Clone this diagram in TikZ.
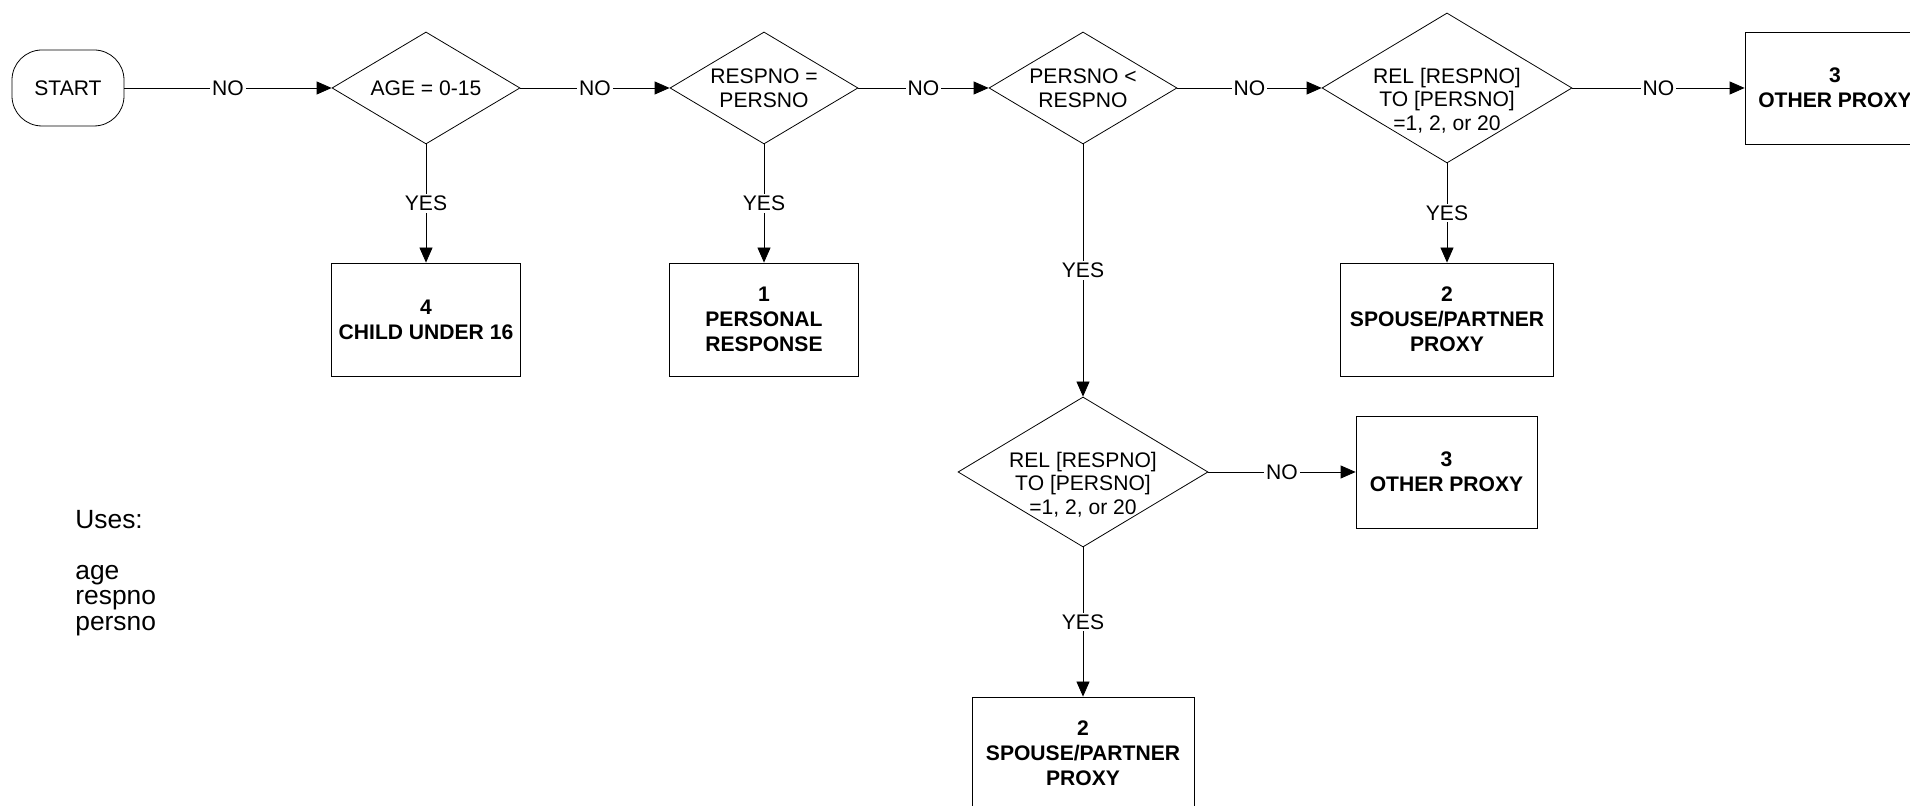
\documentclass[tikz,border=0pt]{standalone}
\usepackage{fontspec}
\setmainfont{Liberation Sans}
\usetikzlibrary{arrows.meta,positioning,calc,shapes.geometric}

\begin{document}
\begin{tikzpicture}[x=1cm,y=1cm,font=\fontsize{12}{13.5}\selectfont,line width=0.45pt,
  flow/.style={-{Triangle[length=0.3cm,width=0.26cm]}},
  ans/.style={fill=white,inner sep=1pt},
  test/.style={diamond,draw,inner sep=0pt,minimum width=3.76cm,minimum height=2.24cm},
  bigtest/.style={test,minimum width=5cm,minimum height=3cm},
  qtext/.style={align=center,inner sep=0pt},
  result/.style={draw,align=center,font=\bfseries\fontsize{12}{14.2}\selectfont,minimum width=3.78cm,minimum height=2.26cm}]
\useasboundingbox (0,0) rectangle (38.2,16.12);
\node[draw,rounded corners=0.6cm,minimum width=2.24cm,minimum height=1.52cm] (start) at (1.36,14.36) {START};
\node[test] (d1) at (8.52,14.36) {};
\node[qtext] (d1t) at (d1) {AGE = 0-15};
\node[test] (d2) at (15.28,14.36) {};
\node[qtext] (d2t) at (d2) {RESPNO =\\PERSNO};
\node[test] (d3) at (21.66,14.36) {};
\node[qtext] (d3t) at (d3) {PERSNO <\\RESPNO};
\node[bigtest] (d4) at (28.94,14.36) {};
\node[qtext,yshift=-0.25cm] (d4t) at (d4) {REL [RESPNO]\\TO [PERSNO]\\=1, 2, or 20};
\node[result,minimum width=3.6cm,minimum height=2.24cm] (other1) at (36.7,14.36) {3\\OTHER PROXY};
\node[result] (child) at (8.52,9.73) {4\\CHILD UNDER 16};
\node[result] (personal) at (15.28,9.73) {1\\PERSONAL\\RESPONSE};
\node[result,minimum width=4.26cm] (spouse1) at (28.94,9.73) {2\\SPOUSE/PARTNER\\PROXY};
\node[bigtest] (d5) at (21.66,6.68) {};
\node[qtext,yshift=-0.25cm] (d5t) at (d5) {REL [RESPNO]\\TO [PERSNO]\\=1, 2, or 20};
\node[result,minimum width=3.62cm,minimum height=2.24cm] (other2) at (28.93,6.68) {3\\OTHER PROXY};
\node[result,minimum width=4.44cm] (spouse2) at (21.66,1.05) {2\\SPOUSE/PARTNER\\PROXY};
\node[align=left,anchor=west,inner sep=0pt,font=\fontsize{15}{14.6}\selectfont] (uses) at (1.5,4.66) {Uses:\\[14.6pt]age\\respno\\persno};
\draw[flow] (start) -- node[ans] (no1) {NO} (d1);
\draw[flow] (d1) -- node[ans] (no2) {NO} (d2);
\draw[flow] (d2) -- node[ans] (no3) {NO} (d3);
\draw[flow] (d3) -- node[ans] (no4) {NO} (d4);
\draw[flow] (d4) -- node[ans] (no5) {NO} (other1);
\draw[flow] (d5) -- node[ans] (no6) {NO} (other2);
\draw[flow] (d1) -- node[ans] (yes1) {YES} (child);
\draw[flow] (d2) -- node[ans] (yes2) {YES} (personal);
\draw[flow] (d3) -- node[ans] (yes3) {YES} (d5);
\draw[flow] (d4) -- node[ans] (yes4) {YES} (spouse1);
\draw[flow] (d5) -- node[ans] (yes5) {YES} (spouse2);
\end{tikzpicture}
\end{document}
